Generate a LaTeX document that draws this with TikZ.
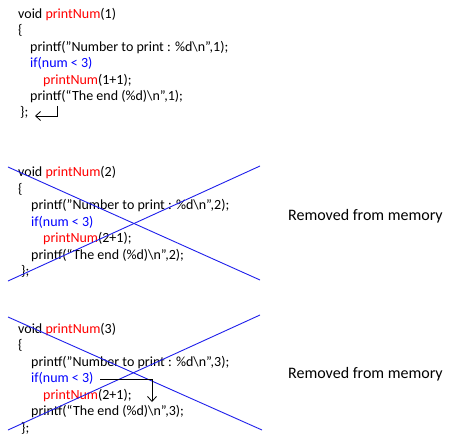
\documentclass[tikz,border=0pt]{standalone}
\usepackage{fontspec}
\setmainfont{Carlito}
\usetikzlibrary{arrows.meta}
\definecolor{kwred}{RGB}{255,0,0}
\definecolor{kwblue}{RGB}{0,0,255}
\definecolor{xblue}{RGB}{30,30,235}
\tikzset{
  code/.style={anchor=base west, inner sep=0pt, font=\fontsize{14}{16}\selectfont},
  note/.style={anchor=base west, inner sep=0pt, font=\fontsize{16}{18}\selectfont},
  cross/.style={draw=xblue, line width=0.9pt},
  flow/.style={draw=black, line width=0.8pt, -{Straight Barb[length=5pt,width=9pt]}}
}
\begin{document}
\begin{tikzpicture}[x=1pt,y=-1pt]
\useasboundingbox (0,0) rectangle (465,446);
% block 1
\node[code] (a1) at (18,18.3) {void \textcolor{kwred}{printNum}(1)};
\node[code] (a2) at (18,35) {\{};
\node[code] (a3) at (30,51.5) {printf("Number to print : \%d\textbackslash n",1);};
\node[code] (a4) at (30,68) {\textcolor{kwblue}{if(num < 3)}};
\node[code] (a5) at (43,84.5) {\textcolor{kwred}{printNum}(1+1);};
\node[code] (a6) at (30,101) {printf(“The end (\%d)\textbackslash n",1);};
\node[code] (a7) at (20,117) {\};};
\coordinate (r1s) at (57,106);
\coordinate (r1c) at (57,116);
\coordinate (r1e) at (35,116);
\draw[flow] (r1s) -- (r1c) -- (r1e);
% block 2
\node[code] (b1) at (18,176.7) {void \textcolor{kwred}{printNum}(2)};
\node[code] (b2) at (18,193.2) {\{};
\node[code] (b3) at (31,209.7) {printf("Number to print : \%d\textbackslash n",2);};
\node[code] (b4) at (31,226.2) {\textcolor{kwblue}{if(num < 3)}};
\node[code] (b5) at (43,242.7) {\textcolor{kwred}{printNum}(2+1);};
\node[code] (b6) at (31,259.2) {printf(“The end (\%d)\textbackslash n",2);};
\node[code] (b7) at (21,275.7) {\};};
\draw[cross] (8,167) -- (260,280);
\draw[cross] (8,281) -- (260,166);
\node[note] (m1) at (288,220) {Removed from memory};
% block 3
\node[code] (c1) at (18,333.3) {void \textcolor{kwred}{printNum}(3)};
\node[code] (c2) at (18,349.8) {\{};
\node[code] (c3) at (31,366.3) {printf("Number to print : \%d\textbackslash n",3);};
\node[code] (c4) at (31,382.8) {\textcolor{kwblue}{if(num < 3)}};
\node[code] (c5) at (43,399.3) {\textcolor{kwred}{printNum}(2+1);};
\node[code] (c6) at (31,415.8) {printf(“The end (\%d)\textbackslash n",3);};
\node[code] (c7) at (21,432.3) {\};};
\draw[cross] (8,317) -- (262,430);
\draw[cross] (8,430) -- (260,315);
\coordinate (r3s) at (100,379);
\coordinate (r3c) at (152,379);
\coordinate (r3e) at (152,402);
\draw[flow] (r3s) -- (r3c) -- (r3e);
\node[note] (m2) at (288,378) {Removed from memory};
\end{tikzpicture}
\end{document}
